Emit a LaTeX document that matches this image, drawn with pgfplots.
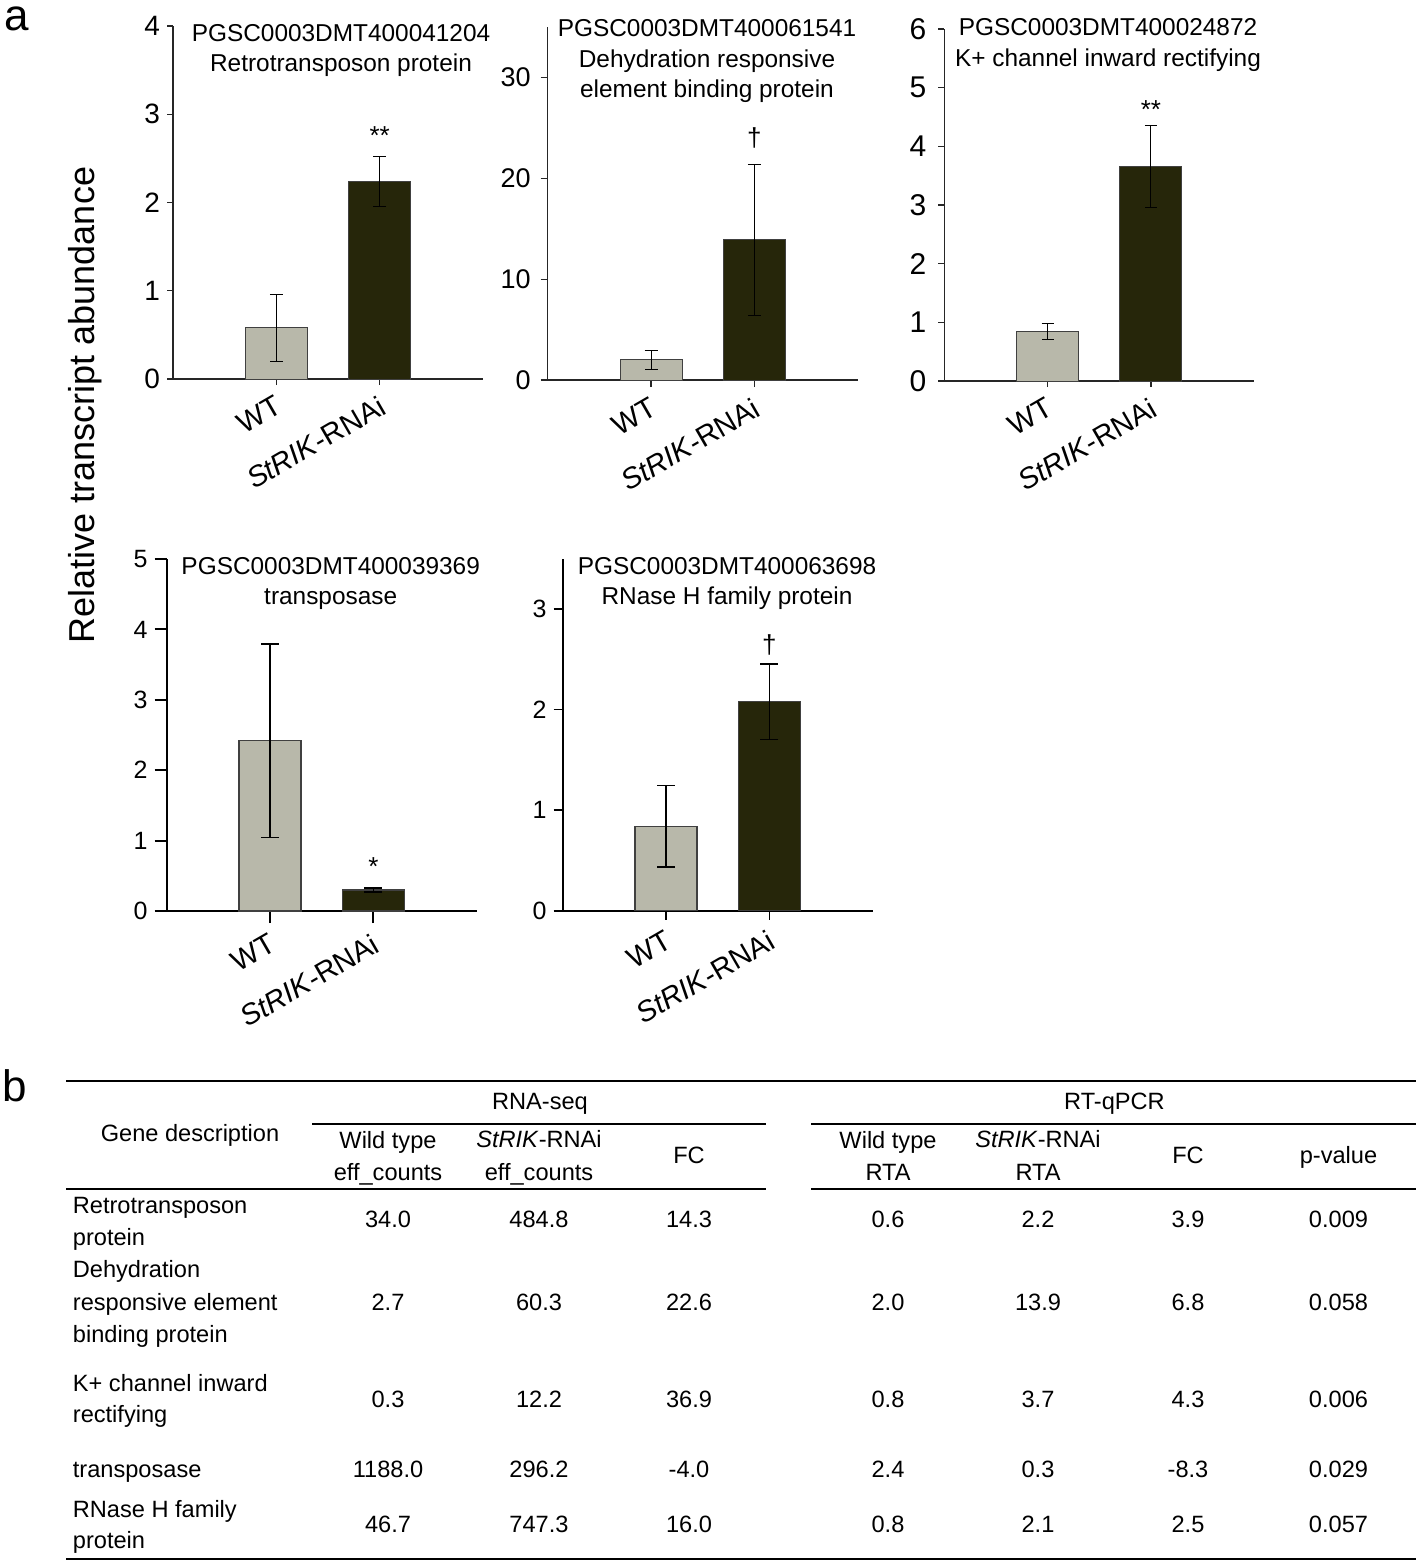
\documentclass[border=0pt]{standalone}
\usepackage{pgfplots}
\pgfplotsset{compat=1.18}
\usepackage{fontspec}
\setmainfont{Liberation Sans}

\definecolor{wtgrey}{HTML}{B8B8AA}
\definecolor{rnaidark}{HTML}{26260A}

\newcommand\fs[1]{\fontsize{#1}{#1}\selectfont}

\pgfplotsset{
  panel/.style={
    scale only axis, width=155pt,
    xmin=-1, xmax=2, ymin=0,
    axis x line*=bottom, axis y line*=left,
    axis line style={-, line width=0.6pt, black!85},
    tick align=outside,
    major tick style={line width=0.6pt, black!85},
    xtick={0,1}, xticklabels={WT, \textit{StRIK}-RNAi},
    xticklabel style={rotate=30, anchor=north east, font=\fs{14.5}},
    /pgf/number format/assume math mode=true,
    ybar, bar width=31pt, bar shift=0pt,
    clip=false,
    error bars/y dir=both, error bars/y explicit,
    error bars/error bar style={line width=0.5pt, black},
  },
  wt/.style={fill=wtgrey, draw=black!75, line width=0.5pt},
  ri/.style={fill=rnaidark, draw=black!75, line width=0.5pt},
}

\begin{document}
\begin{tikzpicture}
\begin{scope}[x=0.5pt,y=-0.5pt]
\path[use as bounding box] (0,0) rectangle (1418,1562);
\end{scope}

% panel 1
\begin{axis}[panel, at={(86.5pt,-189.5pt)}, anchor=south west, height=176.5pt,
  ymax=4, ytick={0,1,2,3,4}, major tick length=3pt,
  yticklabel style={font=\fs{14}},
  error bars/error mark options={rotate=90, mark size=3.25pt, line width=0.5pt}]
\addplot[wt] coordinates {(0,0.58) +- (0,0.38)};
\addplot[ri] coordinates {(1,2.24) +- (0,0.28)};
\node[anchor=north, inner sep=0pt, font=\fs{13}] at (axis cs:1,2.86) {**};
\end{axis}

% panel 2
\begin{axis}[panel, at={(273.85pt,-190pt)}, anchor=south west, height=176.5pt,
  ymax=35, ytick={0,10,20,30}, major tick length=3.5pt,
  yticklabel style={font=\fs{13.5}, xshift=-1.5pt},
  error bars/error mark options={rotate=90, mark size=3.25pt, line width=0.5pt}]
\addplot[wt] coordinates {(0,2.0) +- (0,0.97)};
\addplot[ri] coordinates {(1,13.9) +- (0,7.5)};
\node[inner sep=0pt, font=\fs{13}] at (axis cs:1,24.0) {†};
\end{axis}

% panel 3
\begin{axis}[panel, at={(472.15pt,-190.5pt)}, anchor=south west, height=176pt,
  ymax=6, ytick={0,1,2,3,4,5,6}, major tick length=3pt,
  yticklabel style={font=\fs{15}, xshift=-2.5pt},
  error bars/error mark options={rotate=90, mark size=3pt, line width=0.5pt}]
\addplot[wt] coordinates {(0,0.85) +- (0,0.135)};
\addplot[ri] coordinates {(1,3.66) +- (0,0.70)};
\node[anchor=north, inner sep=0pt, font=\fs{13}] at (axis cs:1,4.79) {**};
\end{axis}

% panel 4
\begin{axis}[panel, at={(83.35pt,-455.5pt)}, anchor=south west, height=176pt,
  ymax=5, ytick={0,1,2,3,4,5}, major tick length=6pt,
  axis line style={-, line width=1pt, black},
  major tick style={line width=1pt, black},
  yticklabel style={font=\fs{12.5}},
  wt/.append style={line width=0.8pt}, ri/.append style={line width=0.8pt},
  error bars/error bar style={line width=0.8pt, black},
  error bars/error mark options={rotate=90, mark size=4.5pt, line width=0.8pt}]
\addplot[wt] coordinates {(0,2.42) +- (0,1.375)};
\addplot[ri] coordinates {(1,0.30) +- (0,0.03)};
\node[anchor=north, inner sep=0pt, font=\fs{13}] at (axis cs:1,0.77) {*};
\end{axis}

% panel 5
\begin{axis}[panel, at={(281.35pt,-455.35pt)}, anchor=south west, height=176pt,
  ymax=3.5, ytick={0,1,2,3}, major tick length=4.5pt,
  axis line style={-, line width=0.8pt, black},
  major tick style={line width=0.8pt, black},
  yticklabel style={font=\fs{12.5}},
  wt/.append style={line width=0.7pt}, ri/.append style={line width=0.7pt},
  error bars/error bar style={line width=0.7pt, black},
  error bars/error mark options={rotate=90, mark size=4.5pt, line width=0.7pt}]
\addplot[wt] coordinates {(0,0.84) +- (0,0.405)};
\addplot[ri] coordinates {(1,2.08) +- (0,0.375)};
\node[inner sep=0pt, font=\fs{13}] at (axis cs:1,2.64) {†};
\end{axis}

\begin{scope}[x=0.5pt,y=-0.5pt]
% panel letters and shared y label
\node[anchor=base west, inner sep=0pt, font=\fs{22}] at (4,31) {a};
\node[anchor=base west, inner sep=0pt, font=\fs{22}] at (2,1101) {b};
\node[rotate=90, anchor=base, inner sep=0pt, font=\fs{18}] at (94,405) {Relative transcript abundance};

% panel titles
\begin{scope}[every node/.style={anchor=base, inner sep=0pt, font=\fs{12.2}}]
\node at (341,42) {PGSC0003DMT400041204};
\node at (341,72) {Retrotransposon protein};
\node at (707,37) {PGSC0003DMT400061541};
\node at (707,68) {Dehydration responsive};
\node at (707,98) {element binding protein};
\node at (1108,36) {PGSC0003DMT400024872};
\node at (1108,67) {K+ channel inward rectifying};
\node at (330.7,574) {PGSC0003DMT400039369};
\node at (330.7,604) {transposase};
\node at (727,574) {PGSC0003DMT400063698};
\node at (727,604) {RNase H family protein};
\end{scope}

% table b
\draw[line width=1pt] (66,1081) -- (1416,1081);
\draw[line width=1pt] (312,1124) -- (766,1124);
\draw[line width=1pt] (811,1124) -- (1416,1124);
\draw[line width=1pt] (66,1188.5) -- (766,1188.5);
\draw[line width=1pt] (811,1188.5) -- (1416,1188.5);
\draw[line width=1pt] (66,1559) -- (1416,1559);

\begin{scope}[every node/.style={anchor=base, inner sep=0pt, font=\fs{11.8}}]
\node at (540,1109) {RNA-seq};
\node at (1114.5,1109) {RT-qPCR};
\node at (190,1141) {Gene description};
\node at (388,1148) {Wild type};
\node at (388,1180) {eff\_counts};
\node at (539,1147) {\textit{StRIK}-RNAi};
\node at (539,1180) {eff\_counts};
\node at (689,1163) {FC};
\node at (888,1148) {Wild type};
\node at (888,1180) {RTA};
\node at (1038,1147) {\textit{StRIK}-RNAi};
\node at (1038,1180) {RTA};
\node at (1188,1163) {FC};
\node at (1338.5,1163) {p-value};

\node[anchor=base west] at (72.5,1213) {Retrotransposon};
\node[anchor=base west] at (72.5,1245) {protein};
\node[anchor=base west] at (72.5,1277.5) {Dehydration};
\node[anchor=base west] at (72.5,1310) {responsive element};
\node[anchor=base west] at (72.5,1342) {binding protein};
\node[anchor=base west] at (72.5,1391) {K+ channel inward};
\node[anchor=base west] at (72.5,1422.5) {rectifying};
\node[anchor=base west] at (72.5,1477.5) {transposase};
\node[anchor=base west] at (72.5,1517) {RNase H family};
\node[anchor=base west] at (72.5,1548.5) {protein};

\foreach \y/\a/\b/\c/\d/\e/\f/\g in {
  1227.5/34.0/484.8/14.3/0.6/2.2/3.9/0.009,
  1310/2.7/60.3/22.6/2.0/13.9/6.8/0.058,
  1407.5/0.3/12.2/36.9/0.8/3.7/4.3/0.006,
  1477.5/1188.0/296.2/-4.0/2.4/0.3/-8.3/0.029,
  1532/46.7/747.3/16.0/0.8/2.1/2.5/0.057}{
  \node at (388,\y) {\a};
  \node at (539,\y) {\b};
  \node at (689,\y) {\c};
  \node at (888,\y) {\d};
  \node at (1038,\y) {\e};
  \node at (1188,\y) {\f};
  \node at (1338.5,\y) {\g};
}
\end{scope}
\end{scope}
\end{tikzpicture}
\end{document}
